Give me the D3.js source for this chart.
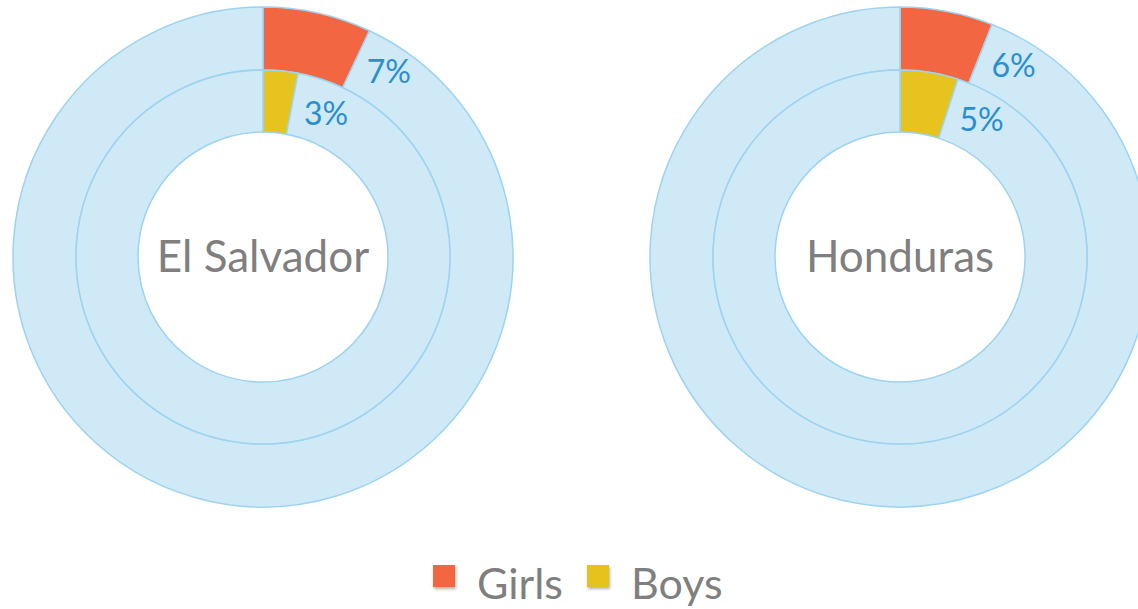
<!DOCTYPE html>
<html lang="en">
  <head>
    <meta charset="UTF-8" />
    <title>Donuts</title>
    <script src="https://d3js.org/d3.v7.min.js"></script>
    <style>
      body { margin: 0; background: #fff; }
    </style>
  </head>
  <body>
    <script>
      const countries = ["El Salvador", "Honduras"];
      const groups = ["Girls", "Boys"];
      // share in percent, [girls, boys] per country
      const girls = [7, 6];
      const boys = [3, 5];

      const width = 1138;
      const height = 609;
      const colors = { Girls: "#F26641", Boys: "#E6C31E" };
      const bg = "#CFE9F6";
      const edge = "#9DD3F0";

      const svg = d3.select("body").append("svg")
        .attr("width", width).attr("height", height);

      const cx = d3.scalePoint().domain(countries).range([263, 900]);
      const cy = 257;
      const rings = { Girls: [187, 250], Boys: [125, 187] };

      const pie = d3.pie().sort(null).value(d => d);

      countries.forEach((c, ci) => {
        const g = svg.append("g").attr("transform", `translate(${cx(c)},${cy})`);
        const vals = { Girls: girls[ci], Boys: boys[ci] };
        groups.forEach(grp => {
          const [ri, ro] = rings[grp];
          const arc = d3.arc().innerRadius(ri).outerRadius(ro);
          const slices = pie([vals[grp], 100 - vals[grp]]);
          g.selectAll(null).data(slices).join("path")
            .attr("d", arc)
            .attr("fill", (d, i) => i == 0 ? colors[grp] : bg)
            .attr("stroke", edge)
            .attr("stroke-width", 1.5);
          // label just after the coloured slice
          const r = (ri + ro) / 2;
          const a = slices[0].endAngle + 12 / r;
          g.append("text")
            .attr("x", r * Math.sin(a))
            .attr("y", -r * Math.cos(a))
            .attr("dy", "0.58em")
            .attr("font-family", "Lato, 'Open Sans', sans-serif")
            .attr("font-size", 32)
            .attr("fill", "#2A8FCF")
            .text(vals[grp] + "%");
        });
        g.append("text")
          .attr("text-anchor", "middle")
          .attr("dy", "0.35em")
          .attr("font-family", "Lato, 'Open Sans', sans-serif")
          .attr("font-size", 44)
          .attr("fill", "#7F7F7F")
          .text(c);
      });

      // legend
      const defs = svg.append("defs");
      const f = defs.append("filter").attr("id", "sh").attr("x", "-50%").attr("y", "-50%")
        .attr("width", "200%").attr("height", "200%");
      f.append("feDropShadow").attr("dx", 1).attr("dy", 2).attr("stdDeviation", 1.5)
        .attr("flood-color", "#000").attr("flood-opacity", 0.3);

      const legendX = d3.scaleOrdinal().domain(groups).range([433, 587]);
      const lg = svg.append("g");
      groups.forEach(grp => {
        lg.append("rect")
          .attr("x", legendX(grp)).attr("y", 565)
          .attr("width", 22).attr("height", 22)
          .attr("fill", colors[grp])
          .attr("filter", "url(#sh)");
        lg.append("text")
          .attr("x", legendX(grp) + 44).attr("y", 599)
          .attr("font-family", "Lato, 'Open Sans', sans-serif")
          .attr("font-size", 43)
          .attr("fill", "#7F7F7F")
          .text(grp);
      });
    </script>
  </body>
</html>
